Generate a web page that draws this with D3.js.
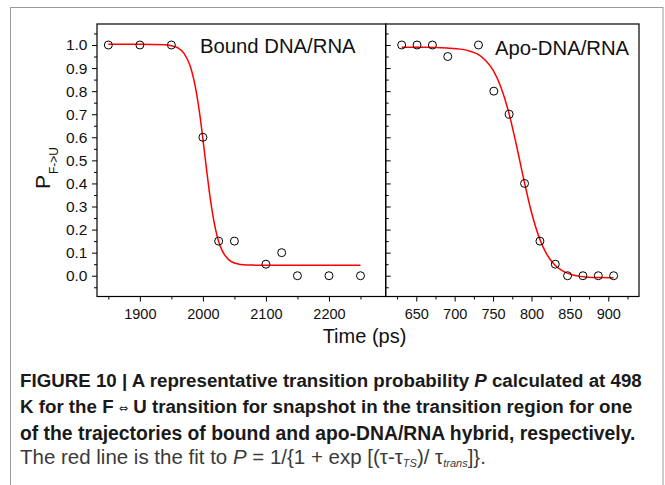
<!DOCTYPE html>
<html><head><meta charset="utf-8">
<script src="https://cdn.jsdelivr.net/npm/d3@7"></script>
<style>
html,body{margin:0;padding:0;background:#fff;}
svg{display:block;font-family:"Liberation Sans",Arial,Helvetica,sans-serif;}
</style></head>
<body><svg id="chart" width="665" height="485"></svg>
<script>
// ---- data ----
const boundTime = [1850, 1900, 1950, 2000, 2025, 2050, 2100, 2125, 2150, 2200, 2250];
const boundP    = [1.0, 1.0, 1.0, 0.6, 0.15, 0.15, 0.05, 0.1, 0.0, 0.0, 0.0];
const boundFitTime = [1850, 1900, 1940, 1950, 1960, 1970, 1980, 1990, 1995, 2000, 2005, 2010, 2015, 2020, 2025, 2030, 2040, 2050, 2060, 2080, 2120, 2250];
const boundFitP    = [1.003, 1.003, 1.001, 0.997, 0.988, 0.964, 0.908, 0.789, 0.700, 0.593, 0.478, 0.369, 0.275, 0.202, 0.148, 0.112, 0.072, 0.055, 0.049, 0.046, 0.045, 0.045];

const apoTime = [631, 651, 671, 691, 731, 751, 771, 791, 811, 831, 847, 867, 887, 907];
const apoP    = [1.0, 1.0, 1.0, 0.95, 1.0, 0.8, 0.7, 0.4, 0.15, 0.05, 0.0, 0.0, 0.0, 0.0];
const apoFitTime = [631, 660, 690, 710, 720, 730, 740, 750, 760, 770, 780, 790, 800, 810, 820, 830, 840, 850, 870, 890, 907];
const apoFitP    = [0.99, 0.99, 0.987, 0.981, 0.973, 0.960, 0.934, 0.891, 0.819, 0.713, 0.572, 0.417, 0.275, 0.166, 0.093, 0.048, 0.022, 0.007, -0.005, -0.008, -0.009];

const yMajor = [0.0, 0.1, 0.2, 0.3, 0.4, 0.5, 0.6, 0.7, 0.8, 0.9, 1.0];
const yMinor = [-0.05, 0.05, 0.15, 0.25, 0.35, 0.45, 0.55, 0.65, 0.75, 0.85, 0.95, 1.05];
const boundXMajor = [1900, 2000, 2100, 2200];
const boundXMinor = [1850, 1950, 2050, 2150, 2250];
const apoXMajor = [650, 700, 750, 800, 850, 900];
const apoXMinor = [625, 675, 725, 775, 825, 875, 925];

const panelLabels = ["Bound DNA/RNA", "Apo-DNA/RNA"];
const xTitle = "Time (ps)";

// ---- layout ----
const svg = d3.select("#chart");
const plotTop = 24, plotBottom = 296.5;
const leftX0 = 97, midX = 385.7, rightX1 = 639;

// frame
svg.append("rect").attr("x", 10.5).attr("y", 7.5).attr("width", 652.5).attr("height", 520)
  .attr("fill", "none").attr("stroke", "#9a9a9a").attr("stroke-width", 1);

const y = d3.scaleLinear().domain([-0.09, 1.091]).range([plotBottom, plotTop]);
const xL = d3.scaleLinear().domain([1832, 2290]).range([leftX0, midX]);
const xR = d3.scaleLinear().domain([610.2, 940]).range([midX, rightX1]);

function styleAxis(fs) {
  return g => {
    g.select(".domain").remove();
    g.selectAll("line").attr("stroke", "#000").attr("stroke-width", 1);
    g.selectAll("text").attr("fill", "#111").attr("font-size", fs + "px")
      .attr("font-family", '"Liberation Sans",Arial,sans-serif');
  };
}

// left y axis
svg.append("g").attr("transform", `translate(${leftX0},0)`)
  .call(d3.axisLeft(y).tickValues(yMinor).tickSize(3).tickFormat(""))
  .call(styleAxis(15));
svg.append("g").attr("transform", `translate(${leftX0},0)`)
  .call(d3.axisLeft(y).tickValues(yMajor).tickSize(5).tickPadding(4.5).tickFormat(d3.format(".1f")))
  .call(styleAxis(15.5));

// right panel y ticks (inward, no labels)
svg.append("g").attr("transform", `translate(${midX},0)`)
  .call(d3.axisRight(y).tickValues(yMinor).tickSize(3).tickFormat(""))
  .call(styleAxis(15));
svg.append("g").attr("transform", `translate(${midX},0)`)
  .call(d3.axisRight(y).tickValues(yMajor).tickSize(5).tickFormat(""))
  .call(styleAxis(15));

// x axes
svg.append("g").attr("transform", `translate(0,${plotBottom})`)
  .call(d3.axisBottom(xL).tickValues(boundXMinor).tickSize(3).tickFormat(""))
  .call(styleAxis(14.5));
svg.append("g").attr("transform", `translate(0,${plotBottom})`)
  .call(d3.axisBottom(xL).tickValues(boundXMajor).tickSize(5).tickPadding(7).tickFormat(d3.format("d")))
  .call(styleAxis(14.5));
svg.append("g").attr("transform", `translate(0,${plotBottom})`)
  .call(d3.axisBottom(xR).tickValues(apoXMinor).tickSize(3).tickFormat(""))
  .call(styleAxis(14.5));
svg.append("g").attr("transform", `translate(0,${plotBottom})`)
  .call(d3.axisBottom(xR).tickValues(apoXMajor).tickSize(5).tickPadding(7).tickFormat(d3.format("d")))
  .call(styleAxis(14.5));

// panel boxes
svg.append("rect").attr("x", leftX0).attr("y", plotTop).attr("width", midX - leftX0).attr("height", plotBottom - plotTop)
  .attr("fill", "none").attr("stroke", "#000").attr("stroke-width", 1.2);
svg.append("rect").attr("x", midX).attr("y", plotTop).attr("width", rightX1 - midX).attr("height", plotBottom - plotTop)
  .attr("fill", "none").attr("stroke", "#000").attr("stroke-width", 1.2);

// fit lines
const lineL = d3.line().x((d, i) => xL(boundFitTime[i])).y(d => y(d)).curve(d3.curveMonotoneX);
const lineR = d3.line().x((d, i) => xR(apoFitTime[i])).y(d => y(d)).curve(d3.curveMonotoneX);
svg.append("path").attr("d", lineL(boundFitP)).attr("fill", "none").attr("stroke", "#ff0000").attr("stroke-width", 1.5);
svg.append("path").attr("d", lineR(apoFitP)).attr("fill", "none").attr("stroke", "#ff0000").attr("stroke-width", 1.5);

// points
svg.append("g").selectAll("circle").data(boundP).join("circle")
  .attr("cx", (d, i) => xL(boundTime[i])).attr("cy", d => y(d)).attr("r", 4)
  .attr("fill", "none").attr("stroke", "#000").attr("stroke-width", 1);
svg.append("g").selectAll("circle").data(apoP).join("circle")
  .attr("cx", (d, i) => xR(apoTime[i])).attr("cy", d => y(d)).attr("r", 4)
  .attr("fill", "none").attr("stroke", "#000").attr("stroke-width", 1);

// panel labels
svg.append("text").attr("x", 200).attr("y", 52.5).attr("font-size", "20.3px").attr("fill", "#111").text(panelLabels[0]);
svg.append("text").attr("x", 495).attr("y", 54.5).attr("font-size", "20.3px").attr("fill", "#111").text(panelLabels[1]);

// axis titles
svg.append("text").attr("x", 364.5).attr("y", 342.5).attr("text-anchor", "middle")
  .attr("font-size", "20px").attr("fill", "#111").text(xTitle);
const yt = svg.append("text").attr("transform", "translate(50,189) rotate(-90)").attr("fill", "#111");
yt.append("tspan").attr("font-size", "21px").text("P");
yt.append("tspan").attr("font-size", "12px").attr("dy", 7.5).attr("dx", 1).text("F->U");

// caption
const cap = svg.append("g");
const capLines = [
  {y: 386.7, w: 622, bold: true, parts: [["FIGURE 10 | A representative transition probability ", ""], ["P", "italic"], [" calculated at 498", ""]]},
  {y: 413.2, w: 614, bold: true, parts: [["K for the F ", ""], ["\u21D4", "sym"], [" U transition for snapshot in the transition region for one", "back1"]]},
  {y: 439.6, w: 616, bold: true, parts: [["of the trajectories of bound and apo-DNA/RNA hybrid, respectively.", ""]]},
  {y: 463.5, w: 477, bold: false, parts: [["The red line is the fit to ", ""], ["P", "italic"], [" = 1/{1 + exp [(\u03C4-\u03C4", ""], ["TS", "sub"], [")/ \u03C4", "back"], ["trans", "sub"], ["]}.", "back"]]}
];
capLines.forEach(L => {
  const t = cap.append("text").attr("x", 20).attr("y", L.y).attr("font-size", "16px")
    .attr("font-weight", L.bold ? "bold" : "normal").attr("fill", L.bold ? "#1a1a1a" : "#3a3a3a");
  L.parts.forEach(([s, k]) => {
    const sp = t.append("tspan").text(s);
    if (k === "italic") sp.attr("font-style", "italic");
    if (k === "sym") sp.attr("font-size", "11px").attr("font-weight", "normal").attr("dy", -1).attr("font-family", "DejaVu Sans");
    if (k === "back1") sp.attr("dy", 1);
    if (k === "sub") sp.attr("font-style", "italic").attr("font-size", "11px").attr("dy", 3);
    if (k === "back") sp.attr("dy", -3);
  });
  const len = t.node().getComputedTextLength();
  t.attr("font-size", (16 * L.w / len) + "px");
});
</script></body></html>
